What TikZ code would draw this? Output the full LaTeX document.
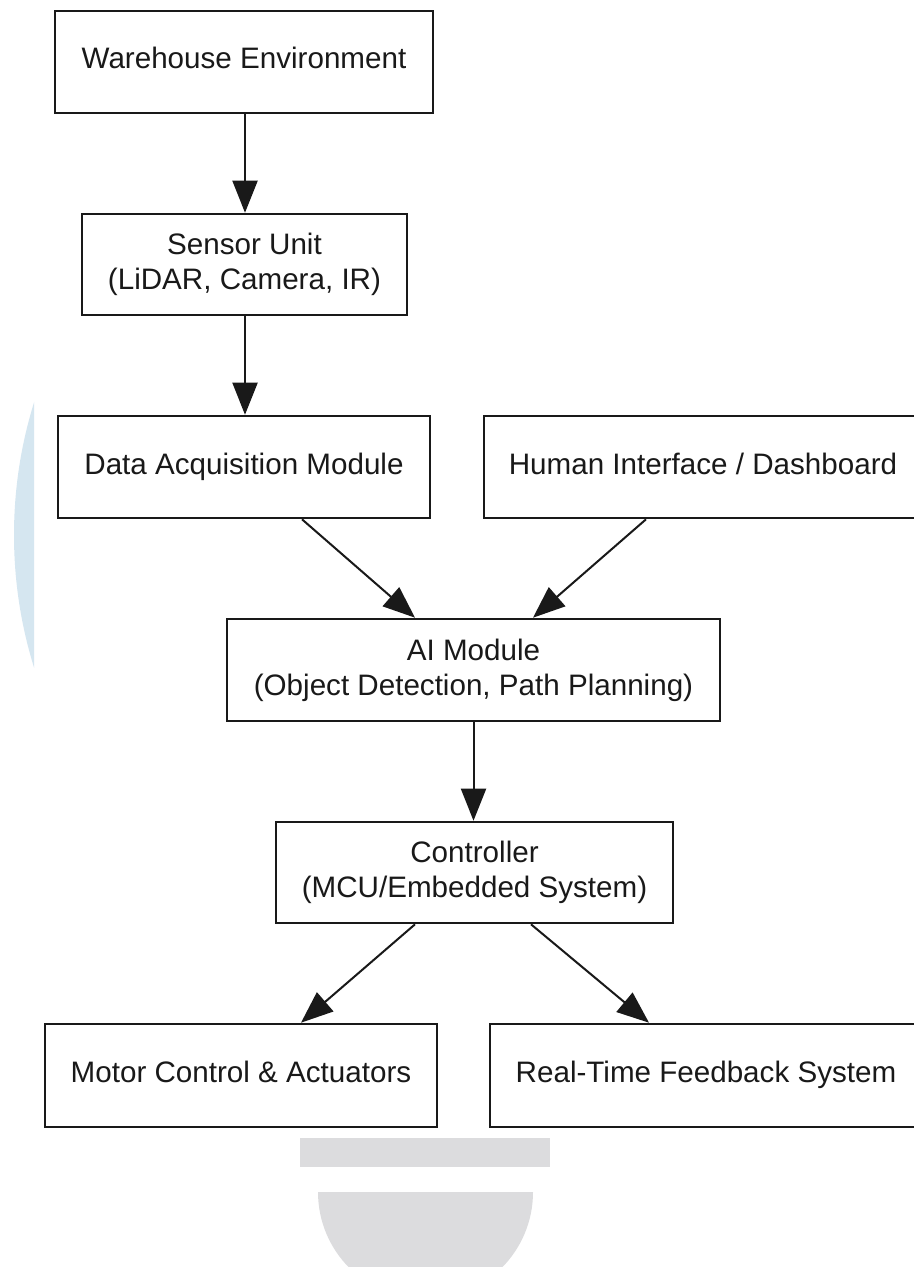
\documentclass[tikz,border=0pt]{standalone}
\usepackage{fontspec}
\setmainfont{Liberation Sans}
\usetikzlibrary{arrows.meta}

\definecolor{inkc}{RGB}{25,25,25}
\definecolor{paleblue}{RGB}{213,230,240}
\definecolor{palegray}{RGB}{220,220,222}

\tikzset{
  blockbox/.style={draw=inkc, line width=1.3pt, fill=white, rectangle,
    align=center, text=inkc, inner sep=0pt,
    font=\fontsize{14.8pt}{17.5pt}\selectfont},
  flow/.style={draw=inkc, line width=1pt,
    -{Triangle[length=16pt,width=12.5pt]}}
}

\begin{document}
\begin{tikzpicture}[x=0.5pt,y=-0.5pt]
  \useasboundingbox (0,0) rectangle (914,1267);
  \clip (0,0) rectangle (914,1267);
  \fill[white] (0,0) rectangle (914,1267);

  % faint background shapes
  \begin{scope}
    \clip (0,400) rectangle (34,667);
    \fill[paleblue] (459.6,535) circle [radius=222.8pt];
  \end{scope}
  \fill[palegray] (300,1138) rectangle (550,1167);
  \begin{scope}
    \clip (0,1192) rectangle (914,1267);
    \fill[palegray] (425.5,1192) circle [radius=53.75pt];
  \end{scope}

  % blocks
  \node[blockbox, minimum width=189pt,   minimum height=51pt]   (env)   at (244,62)      {Warehouse Environment\strut};
  \node[blockbox, minimum width=162.5pt, minimum height=50.5pt] (sens)  at (244.5,264.5) {Sensor Unit\\(LiDAR, Camera, IR)};
  \node[blockbox, minimum width=186pt,   minimum height=51pt]   (daq)   at (244,467)     {Data Acquisition Module\strut};
  \node[blockbox, minimum width=219pt,   minimum height=51pt]   (hmi)   at (703,467)     {Human Interface / Dashboard\strut};
  \node[blockbox, minimum width=246.5pt, minimum height=51pt]   (ai)    at (473.5,670)   {AI Module\\(Object Detection, Path Planning)};
  \node[blockbox, minimum width=198.5pt, minimum height=50.5pt] (ctrl)  at (474.5,872.5) {Controller\\(MCU/Embedded System)};
  \node[blockbox, minimum width=196pt,   minimum height=51.5pt] (motor) at (241,1075.5)   {Motor Control \& Actuators\strut};
  \node[blockbox, minimum width=216pt,   minimum height=51.5pt] (rt)    at (706,1075.5)   {Real-Time Feedback System\strut};

  % connectors
  \draw[flow] ([xshift=0.5pt]env.south) -- ([xshift=0.25pt]sens.north);
  \draw[flow] ([xshift=0.25pt]sens.south) -- ([xshift=0.5pt]daq.north);
  \draw[flow] ([xshift=29pt]daq.south) -- ([xshift=-29.25pt]ai.north);
  \draw[flow] ([xshift=-28.5pt]hmi.south) -- ([xshift=29.75pt]ai.north);
  \draw[flow] (ai.south) -- (ai.south |- ctrl.north);
  \draw[flow] ([xshift=-29.75pt]ctrl.south) -- ([xshift=30pt]motor.north);
  \draw[flow] ([xshift=28.25pt]ctrl.south) -- ([xshift=-28.5pt]rt.north);
\end{tikzpicture}
\end{document}
